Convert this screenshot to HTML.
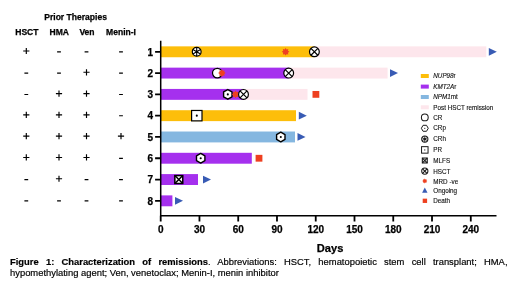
<!DOCTYPE html>
<html><head><meta charset="utf-8"><title>Figure 1</title>
<style>
html,body{margin:0;padding:0;background:#fff;}
body{width:520px;height:292px;overflow:hidden;position:relative;font-family:"Liberation Sans",sans-serif;}
svg{position:absolute;left:0;top:0;will-change:transform;filter:blur(0.35px);}
svg text{font-family:"Liberation Sans",sans-serif;fill:#000;}
svg text.lg{fill:#111;stroke:#111;stroke-width:0.12px;}
svg text.b{font-weight:bold;stroke:#000;stroke-width:0.25px;}
#cap{filter:blur(0.3px);will-change:transform;position:absolute;left:10.4px;top:256.5px;width:497.5px;font-size:9.405px;line-height:10.8px;color:#000;-webkit-text-stroke:0.18px #000;text-align:justify;letter-spacing:0;}
#cap b{font-weight:bold;}
</style></head><body>
<svg width="520" height="292" viewBox="0 0 520 292">
<rect x="160.70" y="46.35" width="153.70" height="10.90" fill="#fdbe0a"/>
<rect x="314.40" y="46.35" width="171.90" height="10.90" fill="#fde6ec"/>
<path d="M488.80 47.90L496.80 51.80L488.80 55.70Z" fill="#385bb4"/>
<rect x="160.70" y="67.64" width="128.00" height="10.90" fill="#a530ee"/>
<rect x="288.70" y="67.64" width="98.90" height="10.90" fill="#fde6ec"/>
<path d="M390.00 69.19L398.00 73.09L390.00 76.99Z" fill="#385bb4"/>
<rect x="160.70" y="88.93" width="82.80" height="10.90" fill="#a530ee"/>
<rect x="243.50" y="88.93" width="64.00" height="10.90" fill="#fde6ec"/>
<rect x="312.50" y="90.98" width="6.8" height="6.8" fill="#ee4020"/>
<rect x="160.70" y="110.22" width="135.30" height="10.90" fill="#fdbe0a"/>
<path d="M298.80 111.77L306.80 115.67L298.80 119.57Z" fill="#385bb4"/>
<rect x="160.70" y="131.51" width="134.30" height="10.90" fill="#85b7e0"/>
<path d="M297.50 133.06L305.50 136.96L297.50 140.86Z" fill="#385bb4"/>
<rect x="160.70" y="152.80" width="91.10" height="10.90" fill="#a530ee"/>
<rect x="255.60" y="154.85" width="6.8" height="6.8" fill="#ee4020"/>
<rect x="160.70" y="174.09" width="37.30" height="10.90" fill="#a530ee"/>
<path d="M203.00 175.64L211.00 179.54L203.00 183.44Z" fill="#385bb4"/>
<rect x="160.70" y="195.38" width="11.70" height="10.90" fill="#a530ee"/>
<path d="M175.00 196.93L183.00 200.83L175.00 204.73Z" fill="#385bb4"/>
<g stroke="#000" stroke-width="1.2" fill="#fff"><circle cx="196.70" cy="51.80" r="4.4"/><path d="M196.70 47.40L196.70 56.20M192.89 49.60L200.51 54.00M200.51 49.60L192.89 54.00" stroke-width="1.1" fill="none"/><circle cx="196.70" cy="51.80" r="1.1" fill="#000" stroke="none"/></g>
<polygon points="289.40,51.80 287.99,52.79 288.29,54.49 286.59,54.19 285.60,55.60 284.61,54.19 282.91,54.49 283.21,52.79 281.80,51.80 283.21,50.81 282.91,49.11 284.61,49.41 285.60,48.00 286.59,49.41 288.29,49.11 287.99,50.81" fill="#ee4020"/>
<g stroke="#000" stroke-width="1.2" fill="#fff"><circle cx="314.40" cy="51.80" r="4.9"/><path d="M310.94 48.34L317.86 55.26M310.94 55.26L317.86 48.34" fill="none"/></g>
<circle cx="217.30" cy="73.09" r="4.8" stroke="#000" stroke-width="1.2" fill="#fff"/>
<polygon points="225.70,73.09 224.29,74.08 224.59,75.78 222.89,75.48 221.90,76.89 220.91,75.48 219.21,75.78 219.51,74.08 218.10,73.09 219.51,72.10 219.21,70.40 220.91,70.70 221.90,69.29 222.89,70.70 224.59,70.40 224.29,72.10" fill="#ee4020"/>
<g stroke="#000" stroke-width="1.2" fill="#fff"><circle cx="288.70" cy="73.09" r="4.9"/><path d="M285.24 69.63L292.16 76.55M285.24 76.55L292.16 69.63" fill="none"/></g>
<g><polygon points="227.80,99.23 223.60,96.80 223.60,91.95 227.80,89.53 232.00,91.95 232.00,96.80" stroke="#000" stroke-width="1.4" fill="#fff" stroke-linejoin="round"/><circle cx="227.80" cy="94.38" r="1.05" fill="#000"/></g>
<polygon points="239.40,94.38 237.99,95.37 238.29,97.07 236.59,96.77 235.60,98.18 234.61,96.77 232.91,97.07 233.21,95.37 231.80,94.38 233.21,93.39 232.91,91.69 234.61,91.99 235.60,90.58 236.59,91.99 238.29,91.69 237.99,93.39" fill="#ee4020"/>
<g stroke="#000" stroke-width="1.2" fill="#fff"><circle cx="243.50" cy="94.38" r="4.9"/><path d="M240.04 90.92L246.96 97.84M240.04 97.84L246.96 90.92" fill="none"/></g>
<g><rect x="191.60" y="110.47" width="10.4" height="10.4" stroke="#000" stroke-width="1.2" fill="#fff"/><circle cx="196.80" cy="115.67" r="1.05" fill="#000"/></g>
<g><polygon points="280.80,141.81 276.60,139.38 276.60,134.53 280.80,132.11 285.00,134.53 285.00,139.38" stroke="#000" stroke-width="1.4" fill="#fff" stroke-linejoin="round"/><circle cx="280.80" cy="136.96" r="1.05" fill="#000"/></g>
<g><polygon points="200.70,163.10 196.50,160.68 196.50,155.82 200.70,153.40 204.90,155.82 204.90,160.68" stroke="#000" stroke-width="1.4" fill="#fff" stroke-linejoin="round"/><circle cx="200.70" cy="158.25" r="1.05" fill="#000"/></g>
<g stroke="#000" stroke-width="1.5"><rect x="174.85" y="175.59" width="7.9" height="7.9" fill="#fff"/><path d="M174.85 175.59L182.75 183.49M174.85 183.49L182.75 175.59" fill="none"/></g>
<path d="M160.70 40.8V216.45M159.95 215.7H496.5" stroke="#000" stroke-width="1.5" fill="none"/>
<path d="M160.70 215.7V221.5M199.46 215.7V221.5M238.22 215.7V221.5M276.98 215.7V221.5M315.74 215.7V221.5M354.50 215.7V221.5M393.26 215.7V221.5M432.02 215.7V221.5M470.78 215.7V221.5M160.70 51.80H155.1M160.70 73.09H155.1M160.70 94.38H155.1M160.70 115.67H155.1M160.70 136.96H155.1M160.70 158.25H155.1M160.70 179.54H155.1M160.70 200.83H155.1" stroke="#000" stroke-width="1.8" fill="none"/>
<text x="160.70" y="233.1" font-size="10" text-anchor="middle" class="b">0</text>
<text x="199.46" y="233.1" font-size="10" text-anchor="middle" class="b">30</text>
<text x="238.22" y="233.1" font-size="10" text-anchor="middle" class="b">60</text>
<text x="276.98" y="233.1" font-size="10" text-anchor="middle" class="b">90</text>
<text x="315.74" y="233.1" font-size="10" text-anchor="middle" class="b">120</text>
<text x="354.50" y="233.1" font-size="10" text-anchor="middle" class="b">150</text>
<text x="393.26" y="233.1" font-size="10" text-anchor="middle" class="b">180</text>
<text x="432.02" y="233.1" font-size="10" text-anchor="middle" class="b">210</text>
<text x="470.78" y="233.1" font-size="10" text-anchor="middle" class="b">240</text>
<text x="150.4" y="55.5" font-size="10" text-anchor="middle" class="b">1</text>
<text x="150.4" y="76.79" font-size="10" text-anchor="middle" class="b">2</text>
<text x="150.4" y="98.08" font-size="10" text-anchor="middle" class="b">3</text>
<text x="150.4" y="119.37" font-size="10" text-anchor="middle" class="b">4</text>
<text x="150.4" y="140.66" font-size="10" text-anchor="middle" class="b">5</text>
<text x="150.4" y="161.95" font-size="10" text-anchor="middle" class="b">6</text>
<text x="150.4" y="183.24" font-size="10" text-anchor="middle" class="b">7</text>
<text x="150.4" y="204.53" font-size="10" text-anchor="middle" class="b">8</text>
<text x="330.1" y="252.1" font-size="11.1" text-anchor="middle" class="b">Days</text>
<text x="75.6" y="19.5" font-size="8.55" text-anchor="middle" class="b">Prior Therapies</text>
<text x="26.9" y="35.4" font-size="8.55" text-anchor="middle" class="b">HSCT</text>
<text x="59.3" y="35.4" font-size="8.55" text-anchor="middle" class="b">HMA</text>
<text x="87" y="35.4" font-size="8.55" text-anchor="middle" class="b">Ven</text>
<text x="121" y="35.4" font-size="8.55" text-anchor="middle" class="b">Menin-I</text>
<path d="M23.20 51.00H29.40M26.30 47.90V54.10M57.10 51.90H60.90M84.60 51.90H88.40M119.10 51.90H122.90M24.40 73.19H28.20M57.10 73.19H60.90M83.40 72.29H89.60M86.50 69.19V75.39M119.10 73.19H122.90M24.40 94.48H28.20M55.90 93.58H62.10M59.00 90.48V96.68M83.40 93.58H89.60M86.50 90.48V96.68M119.10 94.48H122.90M23.20 114.87H29.40M26.30 111.77V117.97M55.90 114.87H62.10M59.00 111.77V117.97M83.40 114.87H89.60M86.50 111.77V117.97M119.10 115.77H122.90M23.20 136.16H29.40M26.30 133.06V139.26M55.90 136.16H62.10M59.00 133.06V139.26M83.40 136.16H89.60M86.50 133.06V139.26M117.90 136.16H124.10M121.00 133.06V139.26M23.20 157.45H29.40M26.30 154.35V160.55M55.90 157.45H62.10M59.00 154.35V160.55M83.40 157.45H89.60M86.50 154.35V160.55M119.10 158.35H122.90M24.40 179.64H28.20M55.90 178.74H62.10M59.00 175.64V181.84M84.60 179.64H88.40M119.10 179.64H122.90M24.40 200.93H28.20M57.10 200.93H60.90M84.60 200.93H88.40M119.10 200.93H122.90" stroke="#000" stroke-width="1.15" fill="none"/>
<text x="433.3" y="78.30" font-size="6.3" class="lg"><tspan font-style="italic">NUP98</tspan>r</text>
<text x="433.3" y="88.90" font-size="6.3" class="lg"><tspan font-style="italic">KMT2A</tspan>r</text>
<text x="433.3" y="99.30" font-size="6.3" class="lg"><tspan font-style="italic">NPM1</tspan>mt</text>
<text x="433.3" y="109.60" font-size="6.3" class="lg">Post HSCT remission</text>
<text x="433.3" y="120.00" font-size="6.3" class="lg">CR</text>
<text x="433.3" y="130.40" font-size="6.3" class="lg">CRp</text>
<text x="433.3" y="141.30" font-size="6.3" class="lg">CRh</text>
<text x="433.3" y="152.10" font-size="6.3" class="lg">PR</text>
<text x="433.3" y="162.80" font-size="6.3" class="lg">MLFS</text>
<text x="433.3" y="173.70" font-size="6.3" class="lg">HSCT</text>
<text x="433.3" y="183.80" font-size="6.3" class="lg">MRD -ve</text>
<text x="433.3" y="192.70" font-size="6.3" class="lg">Ongoing</text>
<text x="433.3" y="203.30" font-size="6.3" class="lg">Death</text>
<rect x="420.80" y="74.00" width="8" height="4" fill="#fdbe0a"/>
<rect x="420.80" y="84.60" width="8" height="4" fill="#a530ee"/>
<rect x="420.80" y="95.00" width="8" height="4" fill="#85b7e0"/>
<rect x="420.80" y="105.30" width="8" height="4" fill="#fde6ec"/>
<circle cx="424.8" cy="117.40" r="3.4" stroke="#1a1a1a" stroke-width="1.05" fill="#fff"/>
<polygon points="428.25,128.30 426.53,131.29 423.07,131.29 421.35,128.30 423.07,125.31 426.53,125.31" stroke="#1a1a1a" stroke-width="1.0" fill="#fff" stroke-linejoin="round"/><circle cx="424.8" cy="128.30" r="0.6" fill="#1a1a1a"/>
<g stroke="#1a1a1a" fill="#fff"><circle cx="424.8" cy="139.10" r="3.1" stroke-width="1.1"/><path d="M424.80 136.00L424.80 142.20M422.12 137.55L427.48 140.65M427.48 137.55L422.12 140.65" stroke-width="0.9" fill="none"/><circle cx="424.8" cy="139.10" r="1.2" fill="#1a1a1a" stroke="none"/></g>
<rect x="421.55" y="146.65" width="6.5" height="6.5" stroke="#1a1a1a" stroke-width="1.0" fill="#fff"/><circle cx="424.8" cy="149.90" r="0.6" fill="#1a1a1a"/>
<g stroke="#1a1a1a" stroke-width="1.1"><rect x="422.35" y="158.05" width="4.9" height="4.9" fill="#fff"/><path d="M422.35 158.05L427.25 162.95M422.35 162.95L427.25 158.05" fill="none"/></g>
<g stroke="#1a1a1a" stroke-width="1.1" fill="#fff"><circle cx="424.8" cy="171.10" r="3.1"/><path d="M422.61 168.91L426.99 173.29M422.61 173.29L426.99 168.91" fill="none"/></g>
<polygon points="427.30,181.00 426.37,181.65 426.57,182.77 425.45,182.57 424.80,183.50 424.15,182.57 423.03,182.77 423.23,181.65 422.30,181.00 423.23,180.35 423.03,179.23 424.15,179.43 424.80,178.50 425.45,179.43 426.57,179.23 426.37,180.35" fill="#ee4020"/>
<path d="M422.10 192.80L424.80 187.50L427.50 192.80Z" fill="#385bb4"/>
<rect x="422.70" y="198.65" width="4.4" height="4.3" fill="#ee4020"/>
</svg>
<div id="cap"><b>Figure 1: Characterization of remissions</b>. Abbreviations: HSCT, hematopoietic stem cell transplant; HMA, hypomethylating agent; Ven, venetoclax; Menin-I, menin inhibitor</div>
</body></html>
